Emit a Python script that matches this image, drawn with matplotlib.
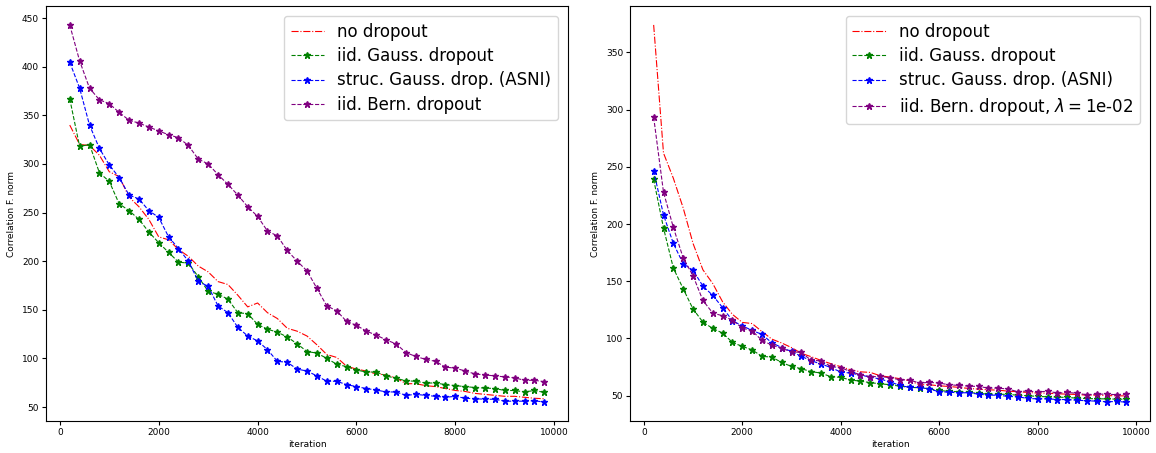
import numpy as np
import matplotlib
matplotlib.use('Agg')
import matplotlib.pyplot as plt

# iterations (every 200 steps)
iters = list(range(200, 10000, 200))

# left panel
left_no_drop = [340, 320, 319, 309, 292, 287, 266, 256, 243, 225,
                222, 212, 205, 195, 189, 179, 176, 165, 153, 157,
                147, 141, 131, 128, 123, 114, 104, 101, 92, 89,
                87, 84, 83, 80, 74, 74, 72, 71, 69, 67,
                66, 64, 63, 62, 61, 61, 60, 59, 58.5]
left_gauss = [367, 318, 320, 291, 282, 259, 252, 243, 230, 219,
              209, 199, 198, 184, 169, 166, 161, 147, 146, 135,
              130, 127, 122, 115, 107, 105.5, 100, 94, 91.5, 88,
              86, 86, 82, 79.5, 77, 76.5, 74.7, 74.7, 73, 72,
              71, 70, 69.5, 69, 67, 67, 65.5, 67, 65]
left_asni = [404.6, 378, 340, 316, 299, 286, 268, 264, 252, 245,
             225, 213, 200, 179.5, 174, 154, 147, 132, 123, 118,
             109, 97, 96, 89, 87, 82, 76.5, 76.5, 73, 71,
             69, 67.5, 65.5, 65.5, 62, 63, 62, 61, 60, 61,
             59, 58.5, 58, 58, 56, 56, 56, 56.5, 55]
left_bern = [443, 406, 378, 366, 362, 353, 345, 342, 338, 334,
             330, 327, 319, 305, 300, 289, 279, 268, 256, 246,
             231, 226, 211, 200, 190, 172, 154, 149, 138, 134,
             128, 124, 119, 115, 106, 102, 99, 97, 91, 90,
             87, 84, 83, 82, 81, 80, 77.5, 77.5, 76]

# right panel
right_no_drop = [374, 262, 240, 214, 183, 160, 148, 132, 121, 114,
                 113, 106, 99.4, 96, 92, 87, 84, 80.8, 77.9, 75.3,
                 72.6, 70.8, 70.3, 67.4, 66.2, 64.8, 63, 59.5, 59.5, 58.6,
                 58, 57.2, 56.3, 55.7, 55.1, 54.8, 53.9, 53.4, 52.8, 52.2,
                 52.2, 51.6, 51.3, 51, 50.4, 50.4, 50.1, 49.8, 49.8]
right_gauss = [239, 196.5, 161.5, 143.4, 125.7, 114.3, 108.7, 104.7, 96.5, 93,
               90, 84.3, 83.7, 79, 75.5, 73.5, 71, 69.7, 66.5, 66,
               63.6, 62.7, 61.3, 60.4, 59.5, 58.3, 57.2, 56.9, 56, 54.5,
               53.7, 53.4, 52.8, 51.9, 51.3, 51.3, 51, 50.4, 49.9, 49.3,
               49, 48.7, 48.4, 47.8, 47.5, 47.2, 47.2, 46.9, 46.9]
right_asni = [246.5, 208, 183, 165.3, 159.5, 145.8, 137.6, 127, 115.5, 111,
              107, 103.5, 96.2, 92, 88.6, 84.3, 80.5, 77.6, 74.6, 70.6,
              69.7, 68, 66.2, 64.5, 62.1, 58.9, 57.2, 57.2, 55.7, 53.4,
              53, 52.5, 52.5, 51.3, 50.4, 50.4, 49.3, 49, 47.5, 47.2,
              47.2, 46.6, 46.6, 46, 45.5, 45.2, 44.6, 44.9, 44.3]
right_bern = [293.4, 227.8, 197, 170.3, 154.8, 133.2, 122.2, 119.8, 116, 109,
              106.7, 98.2, 94.2, 91.3, 88.3, 87.8, 80.8, 80.5, 75.5, 74.4,
              71.1, 68.2, 66.5, 66.8, 65.6, 63.9, 63.6, 61, 61.6, 61,
              59.5, 58.9, 58.3, 58, 56.6, 56.6, 55.7, 53.4, 54.2, 53,
              54, 52.2, 52.8, 52, 50.8, 51.3, 51.3, 50.8, 51.3]

labels = ['no dropout', 'iid. Gauss. dropout', 'struc. Gauss. drop. (ASNI)']
bern_labels = ['iid. Bern. dropout', r'iid. Bern. dropout, $\lambda=$1e-02']
colors = ['red', 'green', 'blue', 'purple']

fig = plt.figure(figsize=(11.56, 4.53), dpi=100)
ax1 = fig.add_axes([0.0398, 0.0706, 0.4516, 0.916])
ax2 = fig.add_axes([0.545, 0.0706, 0.4498, 0.916])

panels = [
    (ax1, [left_no_drop, left_gauss, left_asni, left_bern], bern_labels[0]),
    (ax2, [right_no_drop, right_gauss, right_asni, right_bern], bern_labels[1]),
]

for ax, series, bern_label in panels:
    names = labels + [bern_label]
    ax.plot(iters, series[0], '-.', color=colors[0], lw=0.8, label=names[0])
    for s, c, n in zip(series[1:], colors[1:], names[1:]):
        ax.plot(iters, s, '--', color=c, lw=0.8, marker='*', markersize=5, label=n)
    ax.set_xlabel('iteration', fontsize=6.5, labelpad=2)
    ax.set_ylabel('Correlation F. norm', fontsize=6.5, labelpad=4)
    ax.tick_params(labelsize=6.5, length=3, pad=2)
    ax.set_xticks([0, 2000, 4000, 6000, 8000, 10000])
    ax.legend(loc='upper right', fontsize=12, labelspacing=0.38, borderaxespad=0.6)

fig.savefig('out.png', dpi=100)
